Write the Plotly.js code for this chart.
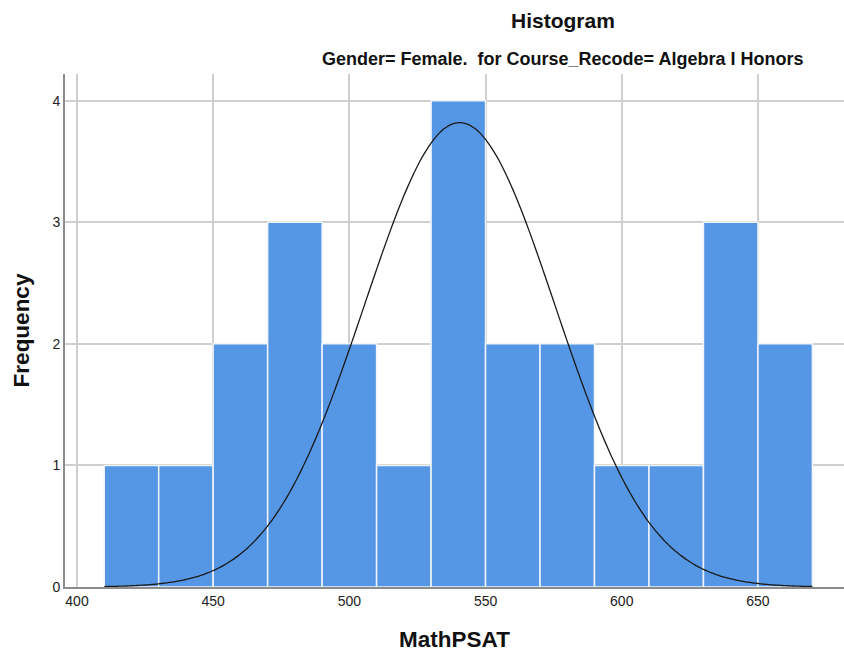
<!DOCTYPE html>
<html><head><meta charset="utf-8">
<script src="https://cdn.plot.ly/plotly-3.0.1.min.js"></script>
<style>html,body{margin:0;padding:0;background:#fff}#chart{width:844px;height:656px}</style>
</head><body><div id="chart"></div>
<script>
// Histogram bins (MathPSAT), bin width 20
const binStarts = [410, 430, 450, 470, 490, 510, 530, 550, 570, 590, 610, 630, 650];
const binWidth = 20;
const frequencies = [1, 1, 2, 3, 2, 1, 4, 2, 2, 1, 1, 3, 2];
// Normal curve parameters
const curveMean = 540.5;
const curveSD = 35;
const curvePeak = 3.82;
const curveRange = [410, 670];
const xTicks = [400, 450, 500, 550, 600, 650];
const yTicks = [0, 1, 2, 3, 4];

const binCenters = binStarts.map(s => s + binWidth / 2);
const cx = [], cy = [];
for (let x = curveRange[0]; x <= curveRange[1]; x += 1) {
  cx.push(x);
  cy.push(curvePeak * Math.exp(-0.5 * Math.pow((x - curveMean) / curveSD, 2)));
}

const font = 'Arial, "Liberation Sans", sans-serif';
const data = [
  {type: 'bar', x: binCenters, y: frequencies, width: binWidth,
   marker: {color: 'rgb(85,150,229)', line: {color: 'rgb(240,245,252)', width: 1.5}},
   hoverinfo: 'skip'},
  {type: 'scatter', mode: 'lines', x: cx, y: cy,
   line: {color: '#1a1a1a', width: 1.3, shape: 'spline'}, hoverinfo: 'skip'}
];
const layout = {
  width: 844, height: 656, showlegend: false,
  paper_bgcolor: '#fff', plot_bgcolor: '#fff',
  margin: {l: 65, r: 0, t: 74, b: 69},
  bargap: 0,
  font: {family: font, color: '#000'},
  xaxis: {range: [395.6, 681.6], tickvals: xTicks, ticktext: xTicks.map(String),
    showgrid: true, gridcolor: '#cfcfcf', gridwidth: 2, zeroline: false,
    showline: true, linecolor: '#8c8c8c', linewidth: 2,
    ticks: '', tickfont: {size: 14, family: font, color: '#222'},
    title: {text: 'MathPSAT', font: {size: 22.5, family: font, color: '#111', weight: 'bold'}, standoff: 23}},
  yaxis: {range: [0, 4.22], tickvals: yTicks, ticktext: yTicks.map(String),
    showgrid: true, gridcolor: '#cfcfcf', gridwidth: 2, zeroline: false,
    showline: true, linecolor: '#8c8c8c', linewidth: 2,
    ticks: '', tickfont: {size: 14, family: font, color: '#222'},
    title: {text: 'Frequency', font: {size: 22.5, family: font, color: '#111', weight: 'bold'}, standoff: 17}},
  annotations: [
    {text: '<b>Histogram</b>', xref: 'paper', yref: 'paper', x: 0.639, y: 1, yshift: 54,
     xanchor: 'center', yanchor: 'middle', showarrow: false,
     font: {size: 21, family: font, color: '#111'}},
    {text: '<b>Gender= Female.  for Course_Recode= Algebra I Honors</b>', xref: 'paper', yref: 'paper', x: 0.639, y: 1, yshift: 15,
     xanchor: 'center', yanchor: 'middle', showarrow: false,
     font: {size: 18, family: font, color: '#111'}}
  ]
};
Plotly.newPlot('chart', data, layout, {displayModeBar: false, staticPlot: true});
</script></body></html>
